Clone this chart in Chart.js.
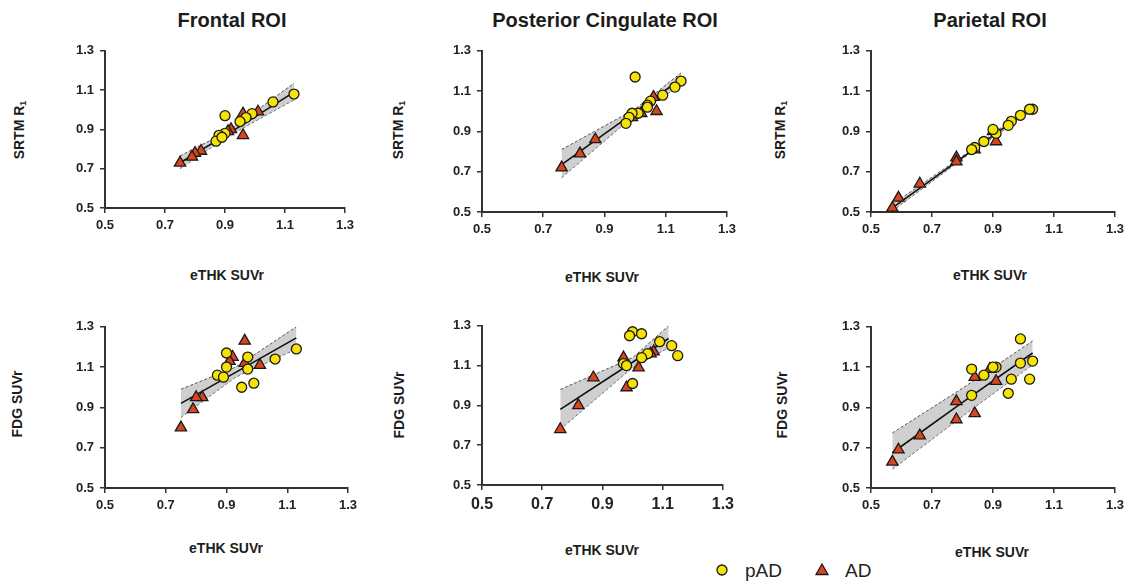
<!DOCTYPE html>
<html><head><meta charset="utf-8">
<script src="https://cdn.jsdelivr.net/npm/chart.js@4.4.1/dist/chart.umd.min.js"></script>
<style>
html,body{margin:0;padding:0;background:#fff;}
body{width:1130px;height:585px;position:relative;overflow:hidden;font-family:"Liberation Sans",Arial,Helvetica,sans-serif;}
canvas{position:absolute;}
.t{position:absolute;font-weight:bold;color:#1c1c1c;white-space:nowrap;transform:translate(-50%,-50%);line-height:1;}
.title{font-size:20px;}
.xt{font-size:14px;}
.yt{font-size:14px;transform:translate(-50%,-50%) rotate(-90deg);}
.yt sub{font-size:9px;vertical-align:-2px;}
.lg{position:absolute;font-size:19px;color:#222;transform:translateY(-50%);line-height:1;}
</style></head><body>

<script>
// ---------- data ----------
const tickValues = [0.5, 0.7, 0.9, 1.1, 1.3];
const tickLabels = ['0.5', '0.7', '0.9', '1.1', '1.3'];
const columnTitles = ['Frontal ROI', 'Posterior Cingulate ROI', 'Parietal ROI'];
const xAxisTitle = 'eTHK SUVr';
const yAxisTitles = ['SRTM R<sub>1</sub>', 'FDG SUVr'];
const seriesNames = ['pAD', 'AD'];

// Frontal, SRTM R1
const frontalSrtmPAD = [[1.13,1.08],[1.06,1.04],[0.99,0.98],[0.97,0.96],[0.95,0.94],[0.90,0.97],[0.90,0.88],[0.88,0.87],[0.87,0.84],[0.89,0.86]];
const frontalSrtmAD  = [[1.01,0.99],[0.96,0.98],[0.96,0.87],[0.92,0.90],[0.91,0.89],[0.82,0.79],[0.80,0.78],[0.79,0.76],[0.75,0.73]];
const frontalSrtmBandX = [0.75, 0.91, 1.13];
const frontalSrtmFit   = [0.73, 0.877, 1.09];
const frontalSrtmLo    = [0.70, 0.865, 1.05];
const frontalSrtmHi    = [0.765, 0.89, 1.135];

// Posterior cingulate, SRTM R1
const pccSrtmPAD = [[1.00,1.17],[1.15,1.15],[1.13,1.12],[1.09,1.08],[1.05,1.05],[1.04,1.03],[1.04,1.02],[1.01,0.99],[0.99,0.99],[0.98,0.97],[0.97,0.94]];
const pccSrtmAD  = [[1.06,1.07],[1.07,1.00],[1.02,0.99],[0.99,0.97],[0.87,0.86],[0.82,0.79],[0.76,0.72]];
const pccSrtmBandX = [0.76, 1.00, 1.15];
const pccSrtmFit   = [0.735, 0.997, 1.16];
const pccSrtmLo    = [0.67, 0.983, 1.13];
const pccSrtmHi    = [0.81, 1.011, 1.19];

// Parietal, SRTM R1
const parSrtmPAD = [[1.03,1.01],[1.02,1.01],[0.99,0.98],[0.96,0.95],[0.95,0.93],[0.91,0.89],[0.90,0.91],[0.87,0.85],[0.84,0.82],[0.83,0.81]];
const parSrtmAD  = [[0.91,0.85],[0.90,0.90],[0.84,0.81],[0.78,0.77],[0.78,0.75],[0.66,0.64],[0.59,0.57],[0.57,0.52]];
const parSrtmBandX = [0.57, 0.82, 1.03];
const parSrtmFit   = [0.52, 0.792, 1.02];
const parSrtmLo    = [0.505, 0.786, 1.005];
const parSrtmHi    = [0.538, 0.798, 1.035];

// Frontal, FDG SUVr
const frontalFdgPAD = [[1.13,1.19],[1.06,1.14],[0.97,1.15],[0.90,1.17],[0.90,1.10],[0.97,1.09],[0.87,1.06],[0.89,1.05],[0.99,1.02],[0.95,1.00]];
const frontalFdgAD  = [[0.96,1.23],[0.92,1.15],[0.91,1.13],[0.96,1.12],[1.01,1.11],[0.82,0.95],[0.80,0.95],[0.79,0.89],[0.75,0.80]];
const frontalFdgBandX = [0.75, 0.93, 1.13];
const frontalFdgFit   = [0.92, 1.074, 1.245];
const frontalFdgLo    = [0.85, 1.05, 1.19];
const frontalFdgHi    = [0.99, 1.10, 1.30];

// Posterior cingulate, FDG SUVr
const pccFdgPAD = [[1.00,1.27],[0.99,1.25],[1.03,1.26],[1.09,1.22],[1.13,1.20],[1.15,1.15],[1.05,1.16],[1.03,1.14],[0.97,1.11],[0.98,1.10],[1.00,1.01]];
const pccFdgAD  = [[1.07,1.17],[1.06,1.16],[0.97,1.14],[1.02,1.09],[0.87,1.04],[0.98,0.99],[0.82,0.90],[0.76,0.78]];
const pccFdgBandX = [0.76, 1.00, 1.12];
const pccFdgFit   = [0.88, 1.117, 1.236];
const pccFdgLo    = [0.78, 1.09, 1.19];
const pccFdgHi    = [0.98, 1.14, 1.30];

// Parietal, FDG SUVr
const parFdgPAD = [[0.99,1.24],[1.03,1.13],[0.99,1.12],[0.91,1.10],[0.90,1.10],[0.83,1.09],[0.87,1.06],[0.96,1.04],[1.02,1.04],[0.95,0.97],[0.83,0.96]];
const parFdgAD  = [[0.84,1.05],[0.91,1.03],[0.89,1.09],[0.78,0.93],[0.84,0.87],[0.78,0.84],[0.66,0.76],[0.59,0.69],[0.57,0.63]];
const parFdgBandX = [0.57, 0.80, 1.03];
const parFdgFit   = [0.675, 0.925, 1.17];
const parFdgLo    = [0.593, 0.856, 1.112];
const parFdgHi    = [0.773, 0.995, 1.23];

// ---------- layout (pixel boxes of each plot area) ----------
const panels = [
  {pad: frontalSrtmPAD, ad: frontalSrtmAD, bx: frontalSrtmBandX, fit: frontalSrtmFit, lo: frontalSrtmLo, hi: frontalSrtmHi, L:105, R:345, T:49, B:208},
  {pad: pccSrtmPAD, ad: pccSrtmAD, bx: pccSrtmBandX, fit: pccSrtmFit, lo: pccSrtmLo, hi: pccSrtmHi, L:482, R:727, T:49, B:212},
  {pad: parSrtmPAD, ad: parSrtmAD, bx: parSrtmBandX, fit: parSrtmFit, lo: parSrtmLo, hi: parSrtmHi, L:871, R:1115, T:49, B:212},
  {pad: frontalFdgPAD, ad: frontalFdgAD, bx: frontalFdgBandX, fit: frontalFdgFit, lo: frontalFdgLo, hi: frontalFdgHi, L:105, R:348, T:325, B:488},
  {pad: pccFdgPAD, ad: pccFdgAD, bx: pccFdgBandX, fit: pccFdgFit, lo: pccFdgLo, hi: pccFdgHi, L:482, R:723, T:324, B:485, bigX:true},
  {pad: parFdgPAD, ad: parFdgAD, bx: parFdgBandX, fit: parFdgFit, lo: parFdgLo, hi: parFdgHi, L:871, R:1115, T:325, B:488}
];

const PADL = 62, PADR = 16, PADT = 12, PADB = 34;
const toPts = arr => arr.map(p => ({x: p[0], y: p[1]}));
const zipXY = (xs, ys) => xs.map((x, i) => ({x: x, y: ys[i]}));

panels.forEach((p, idx) => {
  const c = document.createElement('canvas');
  const w = p.R - p.L + PADL + PADR, h = p.B - p.T + PADT + PADB;
  c.width = w; c.height = h;
  c.style.left = (p.L - PADL) + 'px'; c.style.top = (p.T - PADT) + 'px';
  c.style.width = w + 'px'; c.style.height = h + 'px';
  document.body.appendChild(c);

  const tickFont = {family: '"Liberation Sans", Arial, sans-serif', weight: 'bold', size: 13};
  const axisCommon = {
    type: 'linear', min: 0.5, max: 1.3,
    afterBuildTicks: s => { s.ticks = tickValues.map(v => ({value: v})); },
    grid: {display: true, drawOnChartArea: false, drawTicks: true, tickLength: 5, color: '#333', lineWidth: 1.5},
    border: {display: true, color: '#333', width: 2}
  };

  new Chart(c, {
    type: 'scatter',
    data: {datasets: [
      {label: seriesNames[0], data: toPts(p.pad), pointStyle: 'circle', pointRadius: 5, pointHoverRadius: 5,
       backgroundColor: '#f6e400', borderColor: '#1a1a1a', borderWidth: 1.3, order: 0},
      {label: seriesNames[1], data: toPts(p.ad), pointStyle: 'triangle', pointRadius: 6.5, pointHoverRadius: 6.5,
       backgroundColor: '#d9451f', borderColor: '#1a1a1a', borderWidth: 1.3, order: 1},
      {label: 'fit', data: zipXY(p.bx, p.fit), showLine: true, pointRadius: 0, borderColor: '#111', borderWidth: 1.6, fill: false, order: 2},
      {label: 'upper', data: zipXY(p.bx, p.hi), showLine: true, pointRadius: 0, borderColor: '#555', borderWidth: 1, borderDash: [3, 2],
       fill: 4, backgroundColor: 'rgba(175,175,175,0.6)', order: 3},
      {label: 'lower', data: zipXY(p.bx, p.lo), showLine: true, pointRadius: 0, borderColor: '#555', borderWidth: 1, borderDash: [3, 2], fill: false, order: 4}
    ]},
    options: {
      responsive: false, animation: false, events: [],
      layout: {padding: {left: 0, right: PADR, top: PADT, bottom: 0}},
      plugins: {legend: {display: false}, tooltip: {enabled: false}, title: {display: false}},
      scales: {
        x: Object.assign({}, axisCommon, {
          position: 'bottom',
          afterFit: s => { s.height = PADB; },
          ticks: {callback: (v, i) => tickLabels[i], font: Object.assign({}, tickFont, {size: p.bigX ? 16 : 13}), color: '#222', padding: 5, maxRotation: 0, autoSkip: false}
        }),
        y: Object.assign({}, axisCommon, {
          position: 'left',
          afterFit: s => { s.width = PADL; },
          ticks: {callback: (v, i) => tickLabels[i], font: tickFont, color: '#222', padding: 6, autoSkip: false}
        })
      }
    }
  });
});

// ---------- text ----------
function addText(cls, html, x, y) {
  const d = document.createElement('div');
  d.className = 't ' + cls; d.innerHTML = html;
  d.style.left = x + 'px'; d.style.top = y + 'px';
  document.body.appendChild(d);
}
addText('title', columnTitles[0], 232, 20);
addText('title', columnTitles[1], 605, 20);
addText('title', columnTitles[2], 990, 20);
[[227,275],[602,277],[990,275],[226,548],[602,550],[992,552]].forEach(q => addText('xt', xAxisTitle, q[0], q[1]));
[[20,130],[399,130],[781,130]].forEach(q => addText('yt', yAxisTitles[0], q[0], q[1]));
[[17,404],[399,405],[782,405]].forEach(q => addText('yt', yAxisTitles[1], q[0], q[1]));

// legend
const lg = document.createElementNS('http://www.w3.org/2000/svg', 'svg');
lg.setAttribute('width', '130'); lg.setAttribute('height', '30');
lg.style.position = 'absolute'; lg.style.left = '710px'; lg.style.top = '555px';
lg.innerHTML = '<circle cx="12" cy="15" r="5" fill="#f6e400" stroke="#1a1a1a" stroke-width="1.3"/>' +
  '<polygon points="112,9 118,19.5 106,19.5" fill="#d9451f" stroke="#1a1a1a" stroke-width="1.3"/>';
document.body.appendChild(lg);
const l1 = document.createElement('div'); l1.className = 'lg'; l1.textContent = seriesNames[0];
l1.style.left = '745px'; l1.style.top = '570px'; document.body.appendChild(l1);
const l2 = document.createElement('div'); l2.className = 'lg'; l2.textContent = seriesNames[1];
l2.style.left = '845px'; l2.style.top = '570px'; document.body.appendChild(l2);
</script>
</body></html>
